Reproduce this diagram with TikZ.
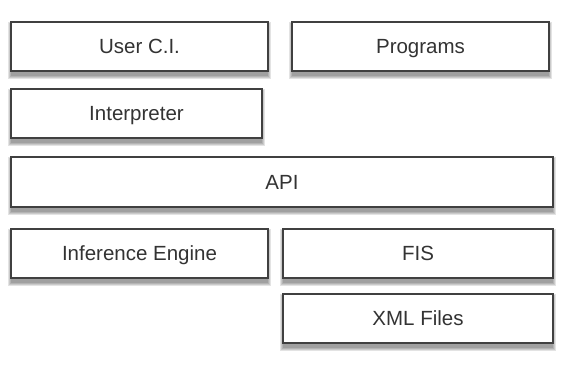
\documentclass[tikz,border=0pt]{standalone}
\usepackage{fontspec}
\setmainfont{Liberation Sans}
\usetikzlibrary{backgrounds}
\begin{document}
\begin{tikzpicture}[x=1pt,y=-1pt,
  box/.style={draw=black!75, line width=1.1pt, fill=white, inner sep=0pt,
    minimum height=49pt, font=\fontsize{20.5}{22}\selectfont, text=black!80,
    text height=14.6pt, text depth=0pt},
  shadelayer/.style={fill=black, opacity=0.11, draw=none}]
\useasboundingbox (0,0) rectangle (569,364);
\newcommand\shadowfor[1]{%
  \foreach \g in {0,1,2,3}{%
    \fill[shadelayer] ([xshift=-\g pt+1pt, yshift=-4pt+\g pt]#1.north west) rectangle ([xshift=\g pt-1pt, yshift=-4pt-\g pt]#1.south east);
  }}
\node[box, minimum width=257pt] (user) at (139.5,46.5) {User C.I.};
\node[box, minimum width=257pt] (prog) at (420.5,46.5) {Programs};
\node[box, minimum width=251pt] (interp) at (136.5,113.5) {Interpreter};
\node[box, minimum width=542pt, minimum height=50pt] (api) at (282,182) {API};
\node[box, minimum width=257pt] (infer) at (139.5,253.5) {Inference Engine};
\node[box, minimum width=270pt] (fis) at (418,253.5) {FIS};
\node[box, minimum width=270pt] (xml) at (418,318.5) {XML Files};
\begin{scope}[on background layer]
\shadowfor{user}\shadowfor{prog}\shadowfor{interp}\shadowfor{api}\shadowfor{infer}\shadowfor{fis}\shadowfor{xml}
\end{scope}
\end{tikzpicture}
\end{document}
